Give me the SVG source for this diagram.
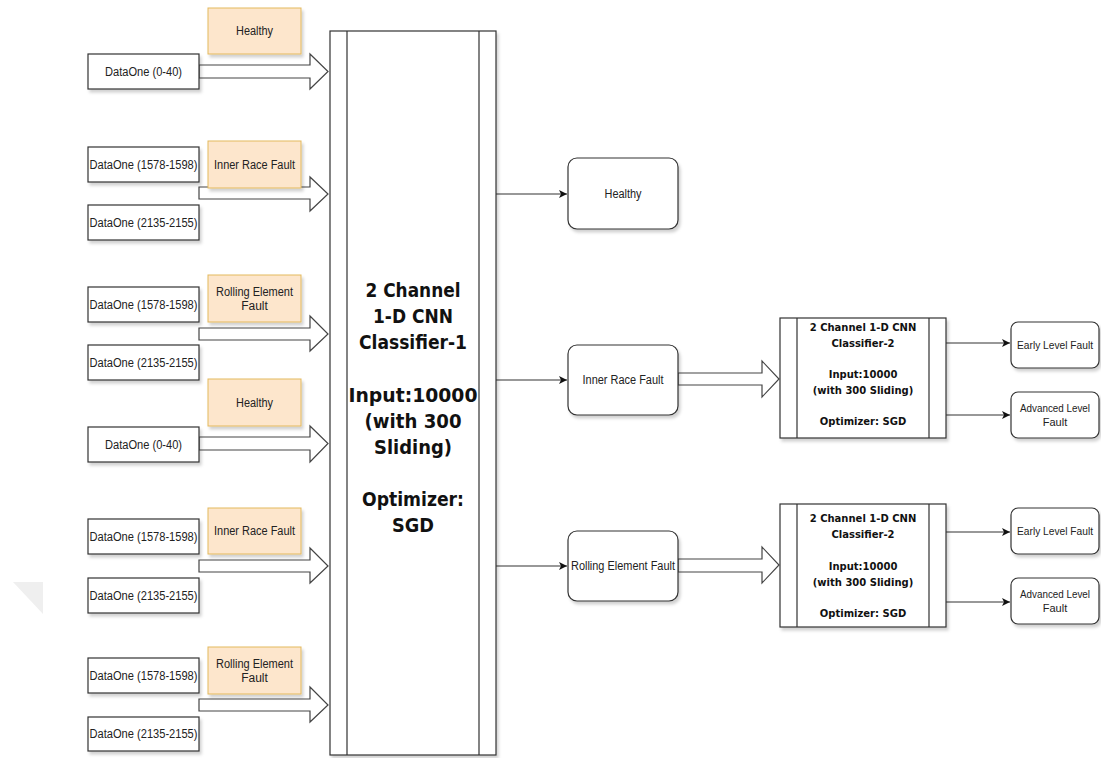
<svg xmlns="http://www.w3.org/2000/svg" width="1101" height="758" viewBox="0 0 1101 758">
<style>
.box{fill:#fff;stroke:#333;stroke-width:1.2}
.lbl{fill:#fde6cc;stroke:#e3b95c;stroke-width:1}
.rbox{fill:#fff;stroke:#333;stroke-width:1.2}
.blk{fill:#fff;stroke:#444;stroke-width:1.2;stroke-linejoin:miter}
.ln{fill:none;stroke:#333;stroke-width:1.2}
.t{font-family:"Liberation Sans",Arial,sans-serif;font-size:12px;fill:#222;text-anchor:middle}
.t10{font-family:"Liberation Sans",Arial,sans-serif;font-size:11px;fill:#222;text-anchor:middle}
.b18{font-family:"DejaVu Sans",Verdana,sans-serif;font-weight:bold;font-size:20px;fill:#111;text-anchor:middle}
.b10{font-family:"DejaVu Sans",Verdana,sans-serif;font-weight:bold;font-size:10px;fill:#111;text-anchor:middle}
</style>
<defs>
<filter id="sh" x="-10%" y="-10%" width="130%" height="130%">
<feDropShadow dx="2" dy="3" stdDeviation="1.5" flood-color="#000" flood-opacity="0.18"/>
</filter>
<marker id="arr" markerUnits="userSpaceOnUse" markerWidth="10" markerHeight="10" refX="8" refY="4" orient="auto">
<path d="M0,0 L8,4 L0,8 L2,4 Z" fill="#111"/>
</marker>
</defs>
<rect width="1101" height="758" fill="#fff"/>
<polygon points="13,582 43,582 43,614" fill="#efefef"/>

<g id="connectors">
<path class="blk" d="M199,65 H310 V54 L328,71.5 L310,89 V78 H199 Z"/>
<path class="blk" d="M199,187 H310 V177 L328,194 L310,211 V199 H199 Z"/>
<path class="blk" d="M199,328 H310 V316 L328,334 L310,351 V340 H199 Z"/>
<path class="blk" d="M199,437 H310 V426 L328,443.5 L310,462 V450 H199 Z"/>
<path class="blk" d="M199,560 H310 V548 L328,566 L310,583 V572 H199 Z"/>
<path class="blk" d="M199,699 H310 V687 L328,705 L310,722 V711 H199 Z"/>
<path class="blk" d="M678,373 H762 V361 L779,379 L762,397 V385 H678 Z"/>
<path class="blk" d="M678,559 H762 V547 L779,565 L762,583 V572 H678 Z"/>
<path class="ln" d="M496,194 H567" marker-end="url(#arr)"/>
<path class="ln" d="M496,380 H567" marker-end="url(#arr)"/>
<path class="ln" d="M496,566 H567" marker-end="url(#arr)"/>
<path class="ln" d="M946,343 H1010" marker-end="url(#arr)"/>
<path class="ln" d="M946,415 H1010" marker-end="url(#arr)"/>
<path class="ln" d="M946,532 H1010" marker-end="url(#arr)"/>
<path class="ln" d="M946,602 H1010" marker-end="url(#arr)"/>
</g>

<g id="d1"><rect class="box" x="88" y="54" width="111" height="35" filter="url(#sh)"/><text class="t" x="143.5" y="75.5" textLength="77" lengthAdjust="spacingAndGlyphs">DataOne (0-40)</text></g>
<g id="l1"><rect class="lbl" x="208" y="8" width="93" height="46" filter="url(#sh)"/><text class="t" x="254.5" y="35" textLength="37" lengthAdjust="spacingAndGlyphs">Healthy</text></g>

<g id="d2"><rect class="box" x="88" y="147" width="111" height="35" filter="url(#sh)"/><text class="t" x="143.5" y="168.5" textLength="108" lengthAdjust="spacingAndGlyphs">DataOne (1578-1598)</text></g>
<g id="d3"><rect class="box" x="88" y="205" width="111" height="35" filter="url(#sh)"/><text class="t" x="143.5" y="226.5" textLength="108" lengthAdjust="spacingAndGlyphs">DataOne (2135-2155)</text></g>
<g id="l2"><rect class="lbl" x="208" y="141" width="93" height="47" filter="url(#sh)"/><text class="t" x="254.5" y="168.5" textLength="81" lengthAdjust="spacingAndGlyphs">Inner Race Fault</text></g>

<g id="d4"><rect class="box" x="88" y="287" width="111" height="35" filter="url(#sh)"/><text class="t" x="143.5" y="308.5" textLength="108" lengthAdjust="spacingAndGlyphs">DataOne (1578-1598)</text></g>
<g id="d5"><rect class="box" x="88" y="345" width="111" height="35" filter="url(#sh)"/><text class="t" x="143.5" y="366.5" textLength="108" lengthAdjust="spacingAndGlyphs">DataOne (2135-2155)</text></g>
<g id="l3"><rect class="lbl" x="208" y="275" width="93" height="47" filter="url(#sh)"/><text class="t" x="254.5" y="295.5" textLength="77" lengthAdjust="spacingAndGlyphs">Rolling Element</text><text class="t" x="254.5" y="310">Fault</text></g>

<g id="d6"><rect class="box" x="88" y="427" width="111" height="35" filter="url(#sh)"/><text class="t" x="143.5" y="448.5" textLength="77" lengthAdjust="spacingAndGlyphs">DataOne (0-40)</text></g>
<g id="l4"><rect class="lbl" x="208" y="379" width="93" height="47" filter="url(#sh)"/><text class="t" x="254.5" y="406.5" textLength="37" lengthAdjust="spacingAndGlyphs">Healthy</text></g>

<g id="d7"><rect class="box" x="88" y="519" width="111" height="35" filter="url(#sh)"/><text class="t" x="143.5" y="540.5" textLength="108" lengthAdjust="spacingAndGlyphs">DataOne (1578-1598)</text></g>
<g id="d8"><rect class="box" x="88" y="578" width="111" height="35" filter="url(#sh)"/><text class="t" x="143.5" y="599.5" textLength="108" lengthAdjust="spacingAndGlyphs">DataOne (2135-2155)</text></g>
<g id="l5"><rect class="lbl" x="208" y="508" width="93" height="46" filter="url(#sh)"/><text class="t" x="254.5" y="535" textLength="81" lengthAdjust="spacingAndGlyphs">Inner Race Fault</text></g>

<g id="d9"><rect class="box" x="88" y="658" width="111" height="35" filter="url(#sh)"/><text class="t" x="143.5" y="679.5" textLength="108" lengthAdjust="spacingAndGlyphs">DataOne (1578-1598)</text></g>
<g id="d10"><rect class="box" x="88" y="717" width="111" height="34" filter="url(#sh)"/><text class="t" x="143.5" y="738" textLength="108" lengthAdjust="spacingAndGlyphs">DataOne (2135-2155)</text></g>
<g id="l6"><rect class="lbl" x="208" y="647" width="93" height="47" filter="url(#sh)"/><text class="t" x="254.5" y="667.5" textLength="77" lengthAdjust="spacingAndGlyphs">Rolling Element</text><text class="t" x="254.5" y="682">Fault</text></g>

<g id="cnn1">
<rect class="box" x="330" y="31" width="166" height="724" filter="url(#sh)"/>
<path class="ln" d="M347,31 V755 M479,31 V755"/>
<text class="b18" x="413" y="297" textLength="95" lengthAdjust="spacingAndGlyphs">2 Channel</text>
<text class="b18" x="413" y="323" textLength="80" lengthAdjust="spacingAndGlyphs">1-D CNN</text>
<text class="b18" x="413" y="349" textLength="108" lengthAdjust="spacingAndGlyphs">Classifier-1</text>
<text class="b18" x="413" y="402" textLength="129" lengthAdjust="spacingAndGlyphs">Input:10000</text>
<text class="b18" x="413" y="428" textLength="97" lengthAdjust="spacingAndGlyphs">(with 300</text>
<text class="b18" x="413" y="454" textLength="78" lengthAdjust="spacingAndGlyphs">Sliding)</text>
<text class="b18" x="413" y="506" textLength="102" lengthAdjust="spacingAndGlyphs">Optimizer:</text>
<text class="b18" x="413" y="532" textLength="42" lengthAdjust="spacingAndGlyphs">SGD</text>
</g>

<g id="out-healthy"><rect class="rbox" x="568" y="158" width="110" height="71" rx="9" filter="url(#sh)"/><text class="t" x="623" y="198" textLength="37" lengthAdjust="spacingAndGlyphs">Healthy</text></g>
<g id="out-inner"><rect class="rbox" x="568" y="345" width="110" height="70" rx="9" filter="url(#sh)"/><text class="t" x="623" y="384" textLength="81" lengthAdjust="spacingAndGlyphs">Inner Race Fault</text></g>
<g id="out-rolling"><rect class="rbox" x="568" y="531" width="110" height="70" rx="9" filter="url(#sh)"/><text class="t" x="623" y="570" textLength="104" lengthAdjust="spacingAndGlyphs">Rolling Element Fault</text></g>

<g id="cnn2a">
<rect class="box" x="780" y="318" width="166" height="120" filter="url(#sh)"/>
<path class="ln" d="M797,318 V438 M929,318 V438"/>
<text class="b10" x="863" y="331">2 Channel 1-D CNN</text>
<text class="b10" x="863" y="347">Classifier-2</text>
<text class="b10" x="863" y="378">Input:10000</text>
<text class="b10" x="863" y="394">(with 300 Sliding)</text>
<text class="b10" x="863" y="425">Optimizer: SGD</text>
</g>
<g id="cnn2b">
<rect class="box" x="780" y="504" width="166" height="123" filter="url(#sh)"/>
<path class="ln" d="M797,504 V627 M929,504 V627"/>
<text class="b10" x="863" y="522">2 Channel 1-D CNN</text>
<text class="b10" x="863" y="538">Classifier-2</text>
<text class="b10" x="863" y="570">Input:10000</text>
<text class="b10" x="863" y="586">(with 300 Sliding)</text>
<text class="b10" x="863" y="617">Optimizer: SGD</text>
</g>

<g id="early1"><rect class="rbox" x="1011" y="322" width="88" height="46" rx="7" filter="url(#sh)"/><text class="t10" x="1055" y="349" textLength="76" lengthAdjust="spacingAndGlyphs">Early Level Fault</text></g>
<g id="adv1"><rect class="rbox" x="1011" y="392" width="88" height="46" rx="7" filter="url(#sh)"/><text class="t10" x="1055" y="412" textLength="70" lengthAdjust="spacingAndGlyphs">Advanced Level</text><text class="t10" x="1055" y="426">Fault</text></g>
<g id="early2"><rect class="rbox" x="1011" y="508" width="88" height="46" rx="7" filter="url(#sh)"/><text class="t10" x="1055" y="535" textLength="76" lengthAdjust="spacingAndGlyphs">Early Level Fault</text></g>
<g id="adv2"><rect class="rbox" x="1011" y="578" width="88" height="46" rx="7" filter="url(#sh)"/><text class="t10" x="1055" y="598" textLength="70" lengthAdjust="spacingAndGlyphs">Advanced Level</text><text class="t10" x="1055" y="612">Fault</text></g>
</svg>
